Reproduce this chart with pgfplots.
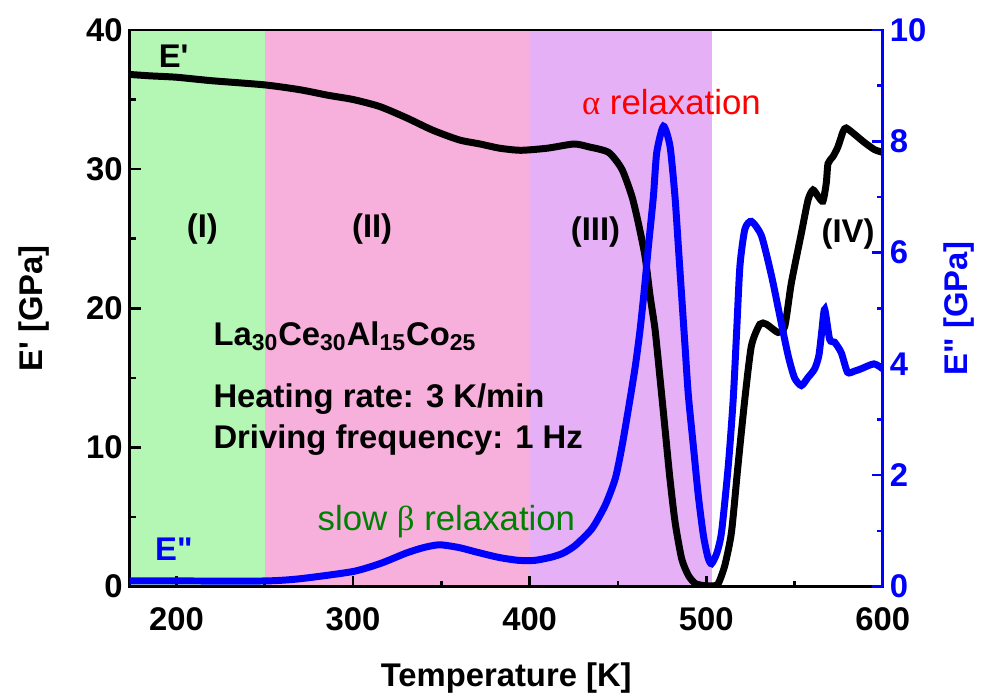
\documentclass[border=0pt]{standalone}
\usepackage{pgfplots}
\pgfplotsset{compat=1.18}
\usepackage{fontspec}
\setmainfont{Liberation Sans}
\newfontfamily\greekfont{Liberation Serif}
\definecolor{bggreen}{RGB}{180,247,180}
\definecolor{bgpink}{RGB}{247,176,220}
\definecolor{bgviolet}{RGB}{230,176,247}
\definecolor{myblue}{RGB}{0,0,255}
\definecolor{mygreen}{RGB}{0,128,0}
\definecolor{myred}{RGB}{255,0,0}

\pgfplotstableread{
T Ep
173.5 36.8
185 36.7
200 36.6
220 36.35
250 36.05
270 35.7
286 35.3
300 35.0
315 34.5
330 33.7
345 32.8
360 32.1
372 31.8
383 31.5
395 31.35
410 31.5
425 31.8
433.4 31.6
444.7 31.2
452.2 30.0
457.9 28.05
461.6 26.1
465.4 23.7
468.2 20.9
471 18.5
473.9 14.9
476.7 11.3
479.5 7.7
482.4 4.6
486.1 2.0
489.9 0.8
494 0.2
500 0.05
504 0.05
506.8 0.2
510.5 1.5
514.3 3.9
518 8.7
521.9 13.5
525.6 17.3
530.4 18.85
534.1 18.85
540.7 18.26
544.5 18.7
548.2 21.8
553.9 25.4
557.7 27.8
560.5 28.5
563.3 28.05
566.1 27.7
568 29.0
569 30.4
571.8 30.9
574.6 31.6
577.5 32.7
579.3 32.95
584 32.5
589.7 31.9
595.3 31.4
600 31.2
}\storage

\pgfplotstableread{
T Epp
173.5 0.1
200 0.1
250 0.1
270 0.14
300 0.27
316 0.42
330 0.6
340 0.7
349 0.75
360 0.7
371 0.61
383 0.52
393.8 0.47
403 0.47
412.6 0.53
419 0.6
425.9 0.74
435.3 1.04
442.8 1.46
448.5 1.94
452.2 2.5
456 3.2
459.8 3.95
462.5 4.6
465 5.35
467.3 6.12
470.1 7.01
472 7.8
475.8 8.27
479.5 7.91
482.3 7.01
484.2 6.12
486.1 5.22
488 4.32
489.9 3.43
492.7 2.53
495.5 1.64
498.4 0.92
501 0.52
503 0.41
506 0.6
508.7 0.98
512.5 2.17
515.3 3.37
517.2 4.56
519.1 5.76
521.9 6.42
525.6 6.56
531.3 6.3
537 5.58
541.7 4.86
546.4 4.15
550 3.75
553.9 3.61
557.5 3.75
561.4 3.91
563.8 4.15
565.5 4.6
567.1 4.98
569.9 4.44
572.7 4.39
576.5 4.2
580 3.85
584 3.87
587.6 3.91
595 4.0
600 3.91
}\lossdata

\begin{document}
\begin{tikzpicture}
\pgfplotsset{
  every axis/.append style={
    scale only axis, width=377.5bp, height=279bp,
    xmin=173.5, xmax=600,
    tick align=inside, major tick length=5.5bp, minor tick length=3bp,
    every tick/.style={line width=1.3bp},
    axis line style={line width=1.3bp},
    tick label style={font=\fontsize{16.5}{19}\selectfont\bfseries},
    /pgf/number format/assume math mode=true,
    label style={font=\fontsize{16.5}{19}\selectfont\bfseries},
  }
}
\begin{axis}[
  axis on top,
  ymin=0, ymax=40,
  xtick={200,300,400,500,600}, ytick={0,10,20,30,40},
  minor x tick num=1, minor y tick num=1,
  xtick pos=left, ytick pos=left,
  xticklabel style={yshift=-7bp},
  xlabel={Temperature [K]},
  ylabel={E\textquotesingle\ [GPa]},
  xlabel style={at={(axis description cs:0.5,-0.179)}, anchor=base},
  ylabel style={at={(axis description cs:-0.1152,0.5)}, anchor=base},
]
\addplot[fill=bggreen, draw=none] coordinates {(173.5,40) (250,40)} \closedcycle;
\addplot[fill=bgpink, draw=none] coordinates {(250,40) (400,40)} \closedcycle;
\addplot[fill=bgviolet, draw=none] coordinates {(400,40) (503,40)} \closedcycle;
\addplot[black, line width=3.5bp, smooth, tension=0.4] table[x=T, y=Ep] {\storage};

\node[anchor=base west, font=\fontsize{16.5}{19}\selectfont\bfseries] at (axis cs:186,37.3) {E\textquotesingle};
\node[font=\fontsize{16.5}{19}\selectfont\bfseries] at (axis cs:214.7,25.7) {(I)};
\node[font=\fontsize{16.5}{19}\selectfont\bfseries] at (axis cs:310.8,25.7) {(II)};
\node[font=\fontsize{16.5}{19}\selectfont\bfseries] at (axis cs:437.3,25.5) {(III)};
\node[font=\fontsize{16.5}{19}\selectfont\bfseries] at (axis cs:580.3,25.3) {(IV)};
\node[text=myred, font=\fontsize{17.5}{20}\selectfont] at (axis cs:480.3,34.8) {{\greekfont α} relaxation};
\node[anchor=base west, font=\fontsize{16.5}{19}\selectfont\bfseries] at (axis cs:217,17.35) {La$_{\mathbf{30}}$Ce$_{\mathbf{30}}$Al$_{\mathbf{15}}$Co$_{\mathbf{25}}$};
\node[anchor=base west, font=\fontsize{16.5}{19}\selectfont\bfseries] at (axis cs:217,12.9) {Heating rate: 3 K/min};
\node[anchor=base west, font=\fontsize{16.5}{19}\selectfont\bfseries] at (axis cs:217,9.9) {Driving frequency: 1 Hz};
\node[anchor=base west, text=mygreen, font=\fontsize{17.5}{20}\selectfont] at (axis cs:276,4.0) {slow {\greekfont β} relaxation};
\node[anchor=base west, text=myblue, font=\fontsize{16.5}{19}\selectfont\bfseries] at (axis cs:184,1.86) {E\textquotedbl};
\end{axis}

\begin{axis}[
  axis x line=none, axis y line*=right,
  ymin=0, ymax=10,
  ytick={0,2,4,6,8,10}, minor y tick num=1,
  y axis line style={myblue, line width=1.3bp},
  every tick/.style={myblue, line width=1.3bp},
  yticklabel style={text=myblue},
  ylabel={E\textquotedbl\ [GPa]},
  ylabel style={text=myblue, at={(axis description cs:1.1126,0.5)}, anchor=base},
]
\addplot[myblue, line width=3.5bp, smooth, tension=0.4] table[x=T, y=Epp] {\lossdata};
\end{axis}
\path (-65bp,-53.5bp) rectangle (425.5bp,294bp);
\end{tikzpicture}
\end{document}
